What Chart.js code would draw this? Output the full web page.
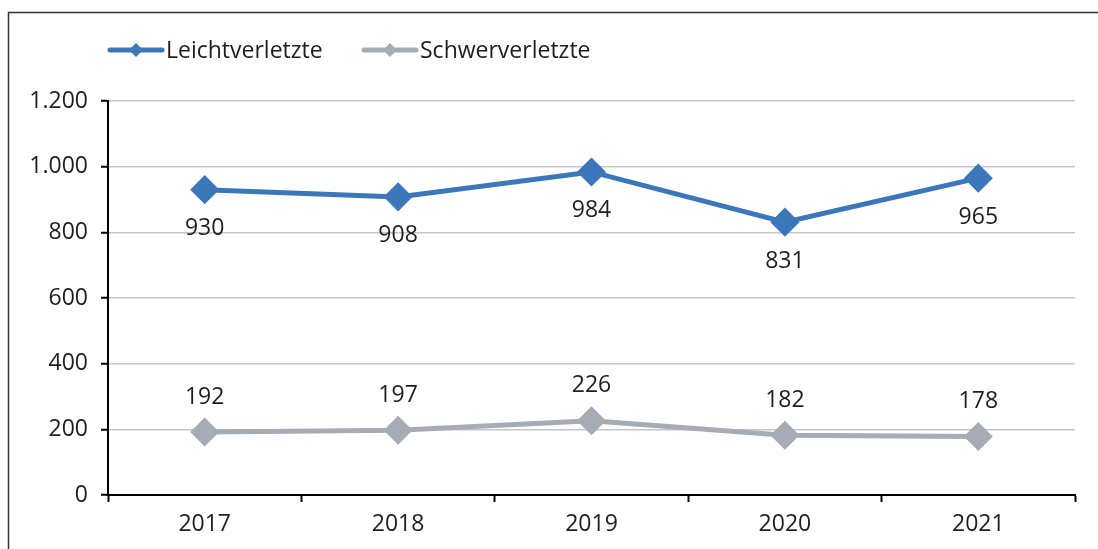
<!DOCTYPE html>
<html>
<head>
<meta charset="utf-8">
<script src="https://cdn.jsdelivr.net/npm/chart.js@4"></script>
<style>
  html, body { margin: 0; padding: 0; background: #fff; }
  #wrap { width: 1098px; height: 549px; position: relative; }
</style>
</head>
<body>
<div id="wrap"><canvas id="chart" width="1098" height="549"></canvas></div>
<script>
// data
const years = ['2017', '2018', '2019', '2020', '2021'];
const leicht = [930, 908, 984, 831, 965];
const schwer = [192, 197, 226, 182, 178];
const yTicks = [0, 200, 400, 600, 800, 1000, 1200];

const FONT = '"Open Sans", Lato, sans-serif';
const FS = 23;
const TXT = '#1e1e1e';
const BLUE = '#3b77b9';
const GREY = '#a6acb4';

// German thousands separator
function fmt(v) {
    return String(v).replace(/\B(?=(\d{3})+(?!\d))/g, '.');
}

// frame, legend and value labels
const decorations = {
    id: 'decorations',
    beforeDraw(chart) {
        const c = chart.ctx;
        c.save();
        c.strokeStyle = '#333';
        c.lineWidth = 1.5;
        c.beginPath();
        c.moveTo(8.5, 549);
        c.lineTo(8.5, 12.5);
        c.lineTo(1098, 12.5);
        c.stroke();
        c.restore();
    },
    afterDatasetsDraw(chart) {
        const c = chart.ctx;
        c.save();
        // legend
        const items = [
            { x: 108, ds: chart.data.datasets[0] },
            { x: 362, ds: chart.data.datasets[1] }
        ];
        items.forEach(it => {
            c.strokeStyle = it.ds.borderColor;
            c.lineWidth = 5;
            c.lineCap = 'round';
            c.beginPath();
            c.moveTo(it.x + 2, 50);
            c.lineTo(it.x + 54, 50);
            c.stroke();
            c.fillStyle = it.ds.borderColor;
            c.beginPath();
            const cx = it.x + 28, r = 7;
            c.moveTo(cx, 50 - r);
            c.lineTo(cx + r, 50);
            c.lineTo(cx, 50 + r);
            c.lineTo(cx - r, 50);
            c.closePath();
            c.fill();
            c.fillStyle = TXT;
            c.font = FS + 'px ' + FONT;
            c.textAlign = 'left';
            c.textBaseline = 'middle';
            c.fillText(it.ds.label, it.x + 58, 51);
        });
        // value labels
        c.font = FS + 'px ' + FONT;
        c.fillStyle = TXT;
        c.textAlign = 'center';
        c.textBaseline = 'middle';
        chart.data.datasets.forEach((ds, i) => {
            const meta = chart.getDatasetMeta(i);
            const dy = i === 0 ? 39 : -35;
            meta.data.forEach((pt, j) => {
                c.fillText(fmt(ds.data[j]), pt.x, pt.y + dy);
            });
        });
        c.restore();
    }
};

const ctx = document.getElementById('chart').getContext('2d');
new Chart(ctx, {
    type: 'line',
    data: {
        labels: years,
        datasets: [{
            label: 'Leichtverletzte',
            data: leicht,
            borderColor: BLUE,
            backgroundColor: BLUE,
            borderWidth: 5,
            pointStyle: 'rectRot',
            pointRadius: 11,
            pointHoverRadius: 11,
            tension: 0
        }, {
            label: 'Schwerverletzte',
            data: schwer,
            borderColor: GREY,
            backgroundColor: GREY,
            borderWidth: 5,
            pointStyle: 'rectRot',
            pointRadius: 11,
            pointHoverRadius: 11,
            tension: 0
        }]
    },
    options: {
        responsive: false,
        animation: false,
        events: [],
        layout: { padding: { top: 101, right: 23, bottom: 0, left: 0 } },
        plugins: {
            legend: { display: false },
            tooltip: { enabled: false }
        },
        scales: {
            x: {
                offset: true,
                grid: { offset: true, drawOnChartArea: false, drawTicks: true, tickLength: 7, tickColor: '#000', tickWidth: 2 },
                border: { color: '#000', width: 2 },
                ticks: { color: TXT, font: { family: FONT, size: FS }, padding: 9 },
                afterFit(scale) { scale.height = 54; }
            },
            y: {
                min: 0,
                max: 1200,
                afterBuildTicks(scale) { scale.ticks = yTicks.map(v => ({ value: v })); },
                grid: { color: '#c3c6ca', lineWidth: 1.5, tickLength: 7, tickColor: '#000', tickWidth: 2 },
                border: { color: '#000', width: 2 },
                ticks: { color: TXT, font: { family: FONT, size: FS }, padding: 13, callback: v => fmt(v) },
                afterFit(scale) { scale.width = 108; }
            }
        }
    },
    plugins: [decorations]
});
</script>
</body>
</html>
